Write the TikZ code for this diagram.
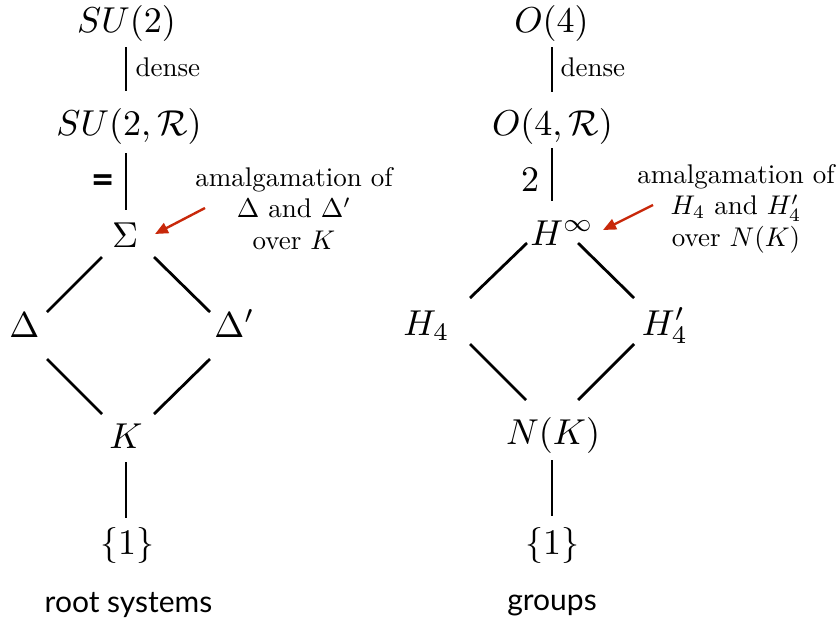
\documentclass[tikz,border=0pt]{standalone}
\usepackage{fontspec}
\newfontfamily\labelfont{Lato}
\usetikzlibrary{arrows.meta}
\definecolor{annred}{RGB}{200,40,10}
\begin{document}
\begin{tikzpicture}[x=0.5pt,y=-0.5pt,
  m/.style={inner sep=0pt,scale=1.8},
  ann/.style={inner sep=0pt,scale=1.35,font=\fontsize{10}{11.6}\selectfont,align=center},
  lbl/.style={inner sep=0pt,scale=1.35},
  edge/.style={line width=1.4pt},
  arr/.style={draw=annred,line width=1.2pt,-{Triangle[length=6.5pt,width=5.5pt]}},
  capt/.style={inner sep=0pt,font=\labelfont\fontsize{15}{18}\selectfont},
  eqsign/.style={inner sep=0pt,font=\labelfont\bfseries\fontsize{20}{24}\selectfont}]
\useasboundingbox (0,0) rectangle (839,627);

% ---------- left: root systems ----------
\node[m] (su2) at (126.5,23.5) {$SU(2)$};
\node[m] (su2r) at (129,126.5) {$SU(2,\mathcal{R})$};
\node[m] (sig) at (125,235) {$\Sigma$};
\node[m,anchor=base] (del) at (24.5,337) {$\Delta$};
\node[m,anchor=base] (delp) at (234.5,337) {$\Delta'$};
\node[m,anchor=base] (k) at (126,448) {$K$};
\node[m] (one1) at (127,545) {$\{1\}$};
\node[capt] (capL) at (128.5,605) {root systems};
\node[lbl,anchor=base west] (denseL) at (135,76) {dense};
\node[eqsign] (eqL) at (103,184) {=};
\node[ann,anchor=north] (annL) at (294,167) {amalgamation of\\ $\Delta$ and $\Delta'$\\ over $K$};

\draw[edge] ([shift={(-0.5,23.5)}]su2.center) -- ([shift={(-3,-35.5)}]su2r.center);
\draw[edge] ([shift={(-3,26.5)}]su2r.center) -- ([shift={(1,-25)}]sig.center);
\draw[edge] ([shift={(-23,22)}]sig.center) -- ([shift={(22.5,-25)}]del.base);
\draw[edge] ([shift={(29,22)}]sig.center) -- ([shift={(-24.5,-25)}]delp.base);
\draw[edge] ([shift={(22.5,22)}]del.base) -- ([shift={(-24,-34)}]k.base);
\draw[edge] ([shift={(-24.5,22)}]delp.base) -- ([shift={(28,-34)}]k.base);
\draw[edge] ([shift={(0,14)}]k.base) -- ([shift={(-1,-27)}]one1.center);
\draw[arr] ([shift={(-89,41)}]annL.north) -- ([shift={(30,-1)}]sig.center);

% ---------- right: groups ----------
\node[m] (o4) at (551.5,23.5) {$O(4)$};
\node[m] (o4r) at (552.5,126.5) {$O(4,\mathcal{R})$};
\node[m] (two) at (530,180) {$2$};
\node[m,anchor=base] (hinf) at (562,245) {$H^{\infty}$};
\node[m,anchor=base] (h4) at (426.5,335) {$H_4$};
\node[m,anchor=base] (h4p) at (665,335) {$H'_4$};
\node[m] (nk) at (553,435.5) {$N(K)$};
\node[m] (one2) at (552,545) {$\{1\}$};
\node[capt] (capR) at (552,605) {groups};
\node[lbl,anchor=base west] (denseR) at (560,76) {dense};
\node[ann,anchor=north] (annR) at (736,164) {amalgamation of\\ $H_4$ and $H'_4$\\ over $N(K)$};

\draw[edge] ([shift={(0.5,23.5)}]o4.center) -- ([shift={(-0.5,-34.5)}]o4r.center);
\draw[edge] ([shift={(-0.5,21.5)}]o4r.center) -- ([shift={(-10,-44)}]hinf.base);
\draw[edge] ([shift={(-35,-2)}]hinf.base) -- ([shift={(43.5,-37)}]h4.base);
\draw[edge] ([shift={(16,-2)}]hinf.base) -- ([shift={(-31,-37)}]h4p.base);
\draw[edge] ([shift={(43.5,9)}]h4.base) -- ([shift={(-27,-35.5)}]nk.center);
\draw[edge] ([shift={(-31,9)}]h4p.base) -- ([shift={(25,-35.5)}]nk.center);
\draw[edge] ([shift={(-1,24.5)}]nk.center) -- ([shift={(0,-29)}]one2.center);
\draw[arr] ([shift={(-83,41)}]annR.north) -- ([shift={(41,-15)}]hinf.base);
\end{tikzpicture}
\end{document}
